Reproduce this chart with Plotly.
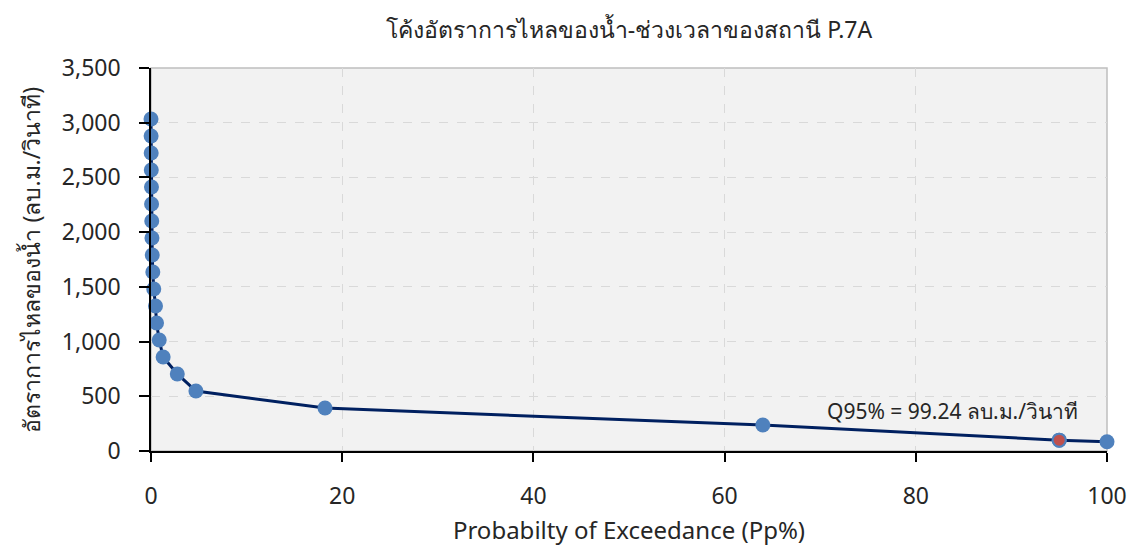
import plotly.graph_objects as go

# Data
prob_pct = [0.0, 0.01, 0.02, 0.03, 0.05, 0.06, 0.08, 0.1, 0.13, 0.19, 0.29, 0.47, 0.58,
            0.86, 1.27, 2.75, 4.7, 18.2, 64.0, 95.0, 100.0]
flow_cms = [3034, 2879, 2723, 2568, 2413, 2257, 2102, 1946, 1791, 1636, 1480, 1325, 1170,
            1014, 859, 704, 548, 393, 237, 99.24, 84]
q95_x = [95.0]
q95_y = [99.24]

title = "โค้งอัตราการไหลของน้ำ-ช่วงเวลาของสถานี P.7A"
x_title = "Probabilty of Exceedance (Pp%)"
y_title = "อัตราการไหลของน้ำ (ลบ.ม./วินาที)"
q95_label = "Q95% = 99.24 ลบ.ม./วินาที"

FONT = "Leelawadee UI, Tahoma, Noto Sans, DejaVu Sans, sans-serif"

W, H = 1127, 543
L, T, PW, PH = 143, 60, 956, 383

fig = go.Figure()
fig.add_trace(go.Scatter(
    x=prob_pct, y=flow_cms, mode="lines+markers",
    line=dict(color="#002060", width=3),
    marker=dict(color="#4f81bd", size=15, line=dict(width=0)),
    cliponaxis=False, showlegend=False,
))
fig.add_trace(go.Scatter(
    x=q95_x, y=q95_y, mode="markers",
    marker=dict(color="#c0504d", size=13, line=dict(color="#4f81bd", width=2)),
    cliponaxis=False, showlegend=False,
))

fig.add_annotation(x=95, y=99.24, xref="x", yref="y", text=q95_label, showarrow=False,
                   xshift=-107, yshift=29, font=dict(size=21, color="#262626", family=FONT))

# plot-area border (light gray)
fig.add_shape(type="rect", xref="paper", yref="paper", x0=0, y0=0, x1=1, y1=1,
              line=dict(color="#bfbfbf", width=1.5), layer="below")

# y axis title placed manually
fig.add_annotation(x=-(L - 22) / PW, y=0.5, xref="paper", yref="paper", text=y_title,
                   textangle=-90, showarrow=False, xanchor="center", yanchor="middle",
                   font=dict(size=23, color="#262626", family=FONT))

fig.update_layout(
    width=W, height=H,
    margin=dict(l=L, r=W - L - PW, t=T, b=H - T - PH, autoexpand=False),
    paper_bgcolor="white", plot_bgcolor="#f2f2f2",
    font=dict(family=FONT, size=23, color="#262626"),
    title=dict(text=title, x=(L + PW / 2) / W, xanchor="center", y=1 - 22 / H, yanchor="middle",
               font=dict(size=23, color="#262626", family=FONT)),
    xaxis=dict(range=[0, 100], dtick=20, showline=True, linecolor="black", linewidth=1.5,
               ticks="outside", ticklen=9, tickwidth=1.5, tickcolor="black",
               ticklabelstandoff=15,
               showgrid=True, gridcolor="#d9d9d9", griddash="dash", gridwidth=1,
               zeroline=False,
               title=dict(text=x_title, font=dict(size=24), standoff=12),
               tickfont=dict(size=23)),
    yaxis=dict(range=[0, 3500], dtick=500, tickformat=",", showline=True, linecolor="black",
               linewidth=1.5, ticks="outside", ticklen=10, tickwidth=1.5, tickcolor="black",
               ticklabelstandoff=14,
               showgrid=True, gridcolor="#d9d9d9", griddash="dash", gridwidth=1,
               zeroline=False,
               tickfont=dict(size=23)),
)

fig.write_html("out.html")
